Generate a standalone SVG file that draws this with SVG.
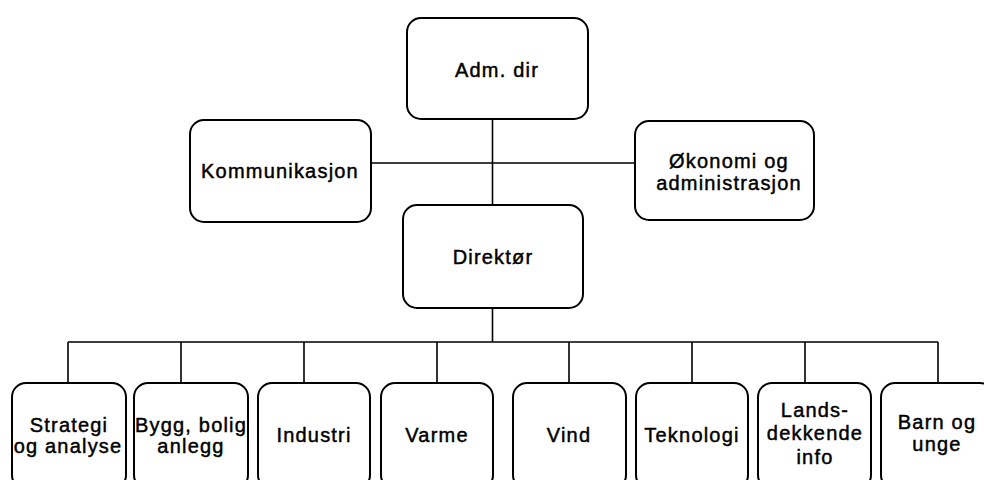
<svg xmlns="http://www.w3.org/2000/svg" width="984" height="480" viewBox="0 0 984 480">
<style>
.box{fill:#fff;stroke:#000;stroke-width:2}
.lbl{font-family:"Liberation Sans",Arial,sans-serif;font-size:20px;letter-spacing:1.2px;fill:#000;stroke:#000;stroke-width:0.45;text-anchor:middle}
.con{stroke:#000;stroke-width:1.6;fill:none}
</style>
<rect width="984" height="480" fill="#fff"/>
<g id="connectors">
<path class="con" d="M492.5 119V205M371 163H635M492.5 308V342M68 342H938M68 342V383M181 342V383M304 342V383M437 342V383M569 342V383M692 342V383M805 342V383M938 342V383"/>
</g>
<g id="adm">
<rect class="box" x="407" y="18" width="181" height="101" rx="14"/>
<text class="lbl" x="497" y="77">Adm. dir</text>
</g>
<g id="kommunikasjon">
<rect class="box" x="190" y="120" width="181" height="102" rx="14"/>
<text class="lbl" x="280" y="178">Kommunikasjon</text>
</g>
<g id="okonomi">
<rect class="box" x="635" y="121" width="179" height="99" rx="14"/>
<text class="lbl" x="729" y="168">Økonomi og</text>
<text class="lbl" x="729" y="190">administrasjon</text>
</g>
<g id="direktor">
<rect class="box" x="403" y="205" width="180" height="103" rx="14"/>
<text class="lbl" x="493" y="264">Direktør</text>
</g>
<g id="strategi">
<rect class="box" x="12" y="383" width="114" height="106" rx="14"/>
<text class="lbl" x="69" y="432">Strategi</text>
<text class="lbl" x="68" y="453">og analyse</text>
</g>
<g id="bygg">
<rect class="box" x="134" y="383" width="114" height="106" rx="14"/>
<text class="lbl" x="191" y="432">Bygg, bolig</text>
<text class="lbl" x="191" y="453">anlegg</text>
</g>
<g id="industri">
<rect class="box" x="258" y="383" width="112" height="106" rx="14"/>
<text class="lbl" x="314" y="442">Industri</text>
</g>
<g id="varme">
<rect class="box" x="381" y="383" width="112" height="106" rx="14"/>
<text class="lbl" x="437" y="442">Varme</text>
</g>
<g id="vind">
<rect class="box" x="513" y="383" width="113" height="106" rx="14"/>
<text class="lbl" x="569" y="442">Vind</text>
</g>
<g id="teknologi">
<rect class="box" x="636" y="383" width="112" height="106" rx="14"/>
<text class="lbl" x="692" y="442">Teknologi</text>
</g>
<g id="landsdekkende">
<rect class="box" x="758" y="383" width="113" height="106" rx="14"/>
<text class="lbl" x="815" y="417">Lands-</text>
<text class="lbl" x="815" y="440">dekkende</text>
<text class="lbl" x="815" y="464">info</text>
</g>
<g id="barn">
<rect class="box" x="881" y="383" width="113" height="106" rx="14"/>
<text class="lbl" x="937" y="429">Barn og</text>
<text class="lbl" x="937" y="451">unge</text>
</g>
</svg>
